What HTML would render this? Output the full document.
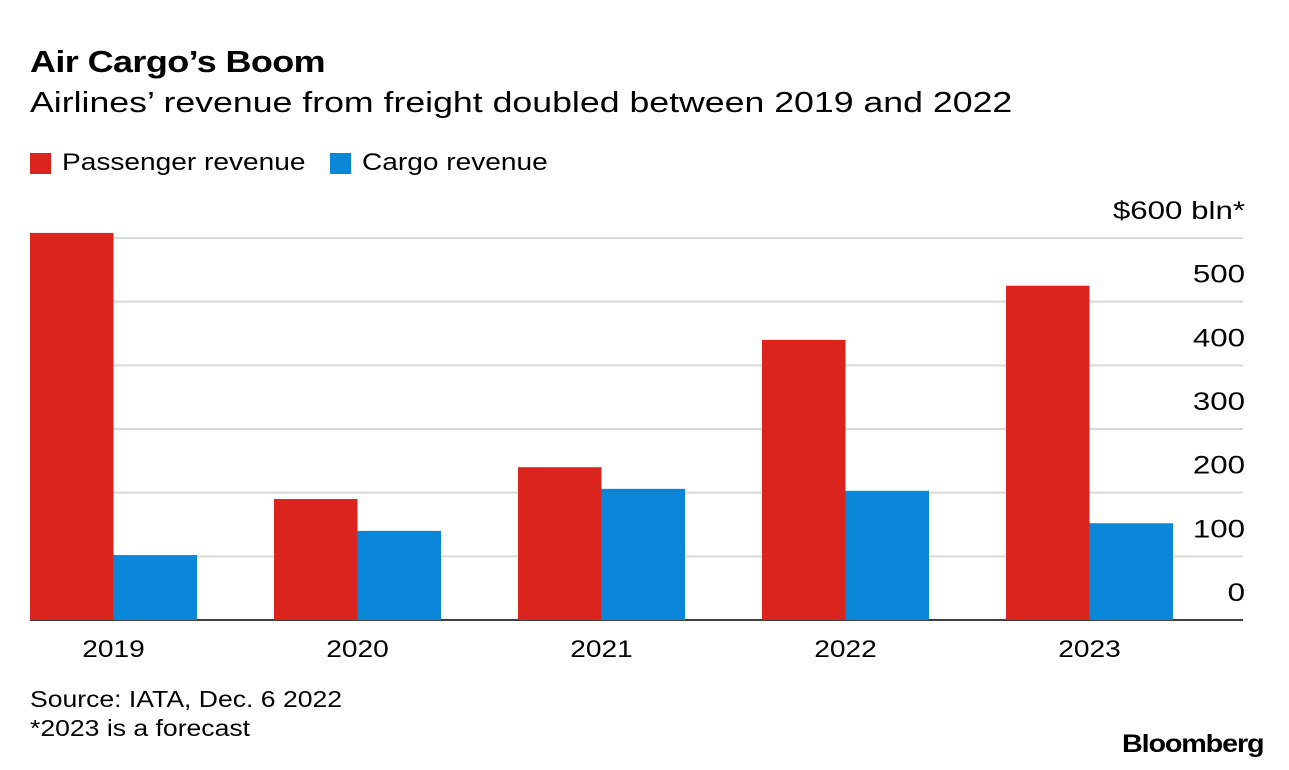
<!DOCTYPE html>
<html><head><meta charset="utf-8"><style>
body{margin:0;background:#fff;font-family:"Liberation Sans",sans-serif;}
#c{position:relative;width:1289px;height:770px;overflow:hidden}
.t{position:absolute;white-space:nowrap;color:#000;transform-origin:left top}
</style></head><body>
<div id="c">
<div class="t" style="left:30px;top:44px;font-size:31px;font-weight:bold;letter-spacing:-0.5px;transform:scaleX(1.16)">Air Cargo’s Boom</div>
<div class="t" style="left:30px;top:87px;font-size:29px;transform:scaleX(1.23)">Airlines’ revenue from freight doubled between 2019 and 2022</div>
<div style="position:absolute;left:30px;top:153px;width:21px;height:21px;background:#dc241f"></div>
<div class="t" style="left:62px;top:149px;font-size:24px;transform:scaleX(1.17)">Passenger revenue</div>
<div style="position:absolute;left:330px;top:153px;width:21px;height:21px;background:#0b87da"></div>
<div class="t" style="left:362px;top:149px;font-size:24px;transform:scaleX(1.17)">Cargo revenue</div>
<svg id="s" width="1289" height="770" style="position:absolute;left:0;top:0"></svg>
<div class="t" style="left:30px;top:686px;font-size:23px;transform:scaleX(1.155)">Source: IATA, Dec. 6 2022</div>
<div class="t" style="left:30px;top:715px;font-size:23px;transform:scaleX(1.155)">*2023 is a forecast</div>
<div class="t" style="left:1122px;top:730px;font-size:25px;font-weight:bold;letter-spacing:-1px;transform:scaleX(1.15)">Bloomberg</div>
</div>
<script>
const categories=["2019","2020","2021","2022","2023"];
const passenger=[608,190,240,440,525];
const cargo=[102,140,206,203,152];
const ticks=[0,100,200,300,400,500,600];
const tickLabels=["0","100","200","300","400","500","$600 bln*"];
const s=document.getElementById('s');const NS="http://www.w3.org/2000/svg";
const y0=620,k=382/600,x0=30,step=244,bw=83.5;
const y=v=>y0-v*k;
function mk(t,a){const e=document.createElementNS(NS,t);for(const n in a)e.setAttribute(n,a[n]);s.appendChild(e);return e;}
function widen(e,f){const w=e.getComputedTextLength();e.setAttribute('textLength',w*f);e.setAttribute('lengthAdjust','spacingAndGlyphs');}
ticks.forEach((t,i)=>{
 const l=mk('line',{x1:30,x2:1243,y1:y(t),y2:y(t),stroke:t===0?'#000':'#d9d9d9','stroke-width':t===0?1.5:2});
 
 
 const tx=mk('text',{x:1245,y:y(t)-19,'text-anchor':'end','font-size':25,'font-family':'Liberation Sans'});
 tx.textContent=tickLabels[i];
 
 
 widen(tx,1.25);
});
categories.forEach((c,i)=>{
 const cx=x0+bw+i*step;
 const r=mk('rect',{x:cx-bw,y:y(passenger[i]),width:bw,height:passenger[i]*k,fill:'#dc241f'});
 
 
 const b=mk('rect',{x:cx,y:y(cargo[i]),width:bw,height:cargo[i]*k,fill:'#0b87da'});
 
 
 const t=mk('text',{x:cx,y:657,'text-anchor':'middle','font-size':24,'font-family':'Liberation Sans'});
 t.textContent=c;
 
 
 widen(t,1.17);
});
</script>
</body></html>
